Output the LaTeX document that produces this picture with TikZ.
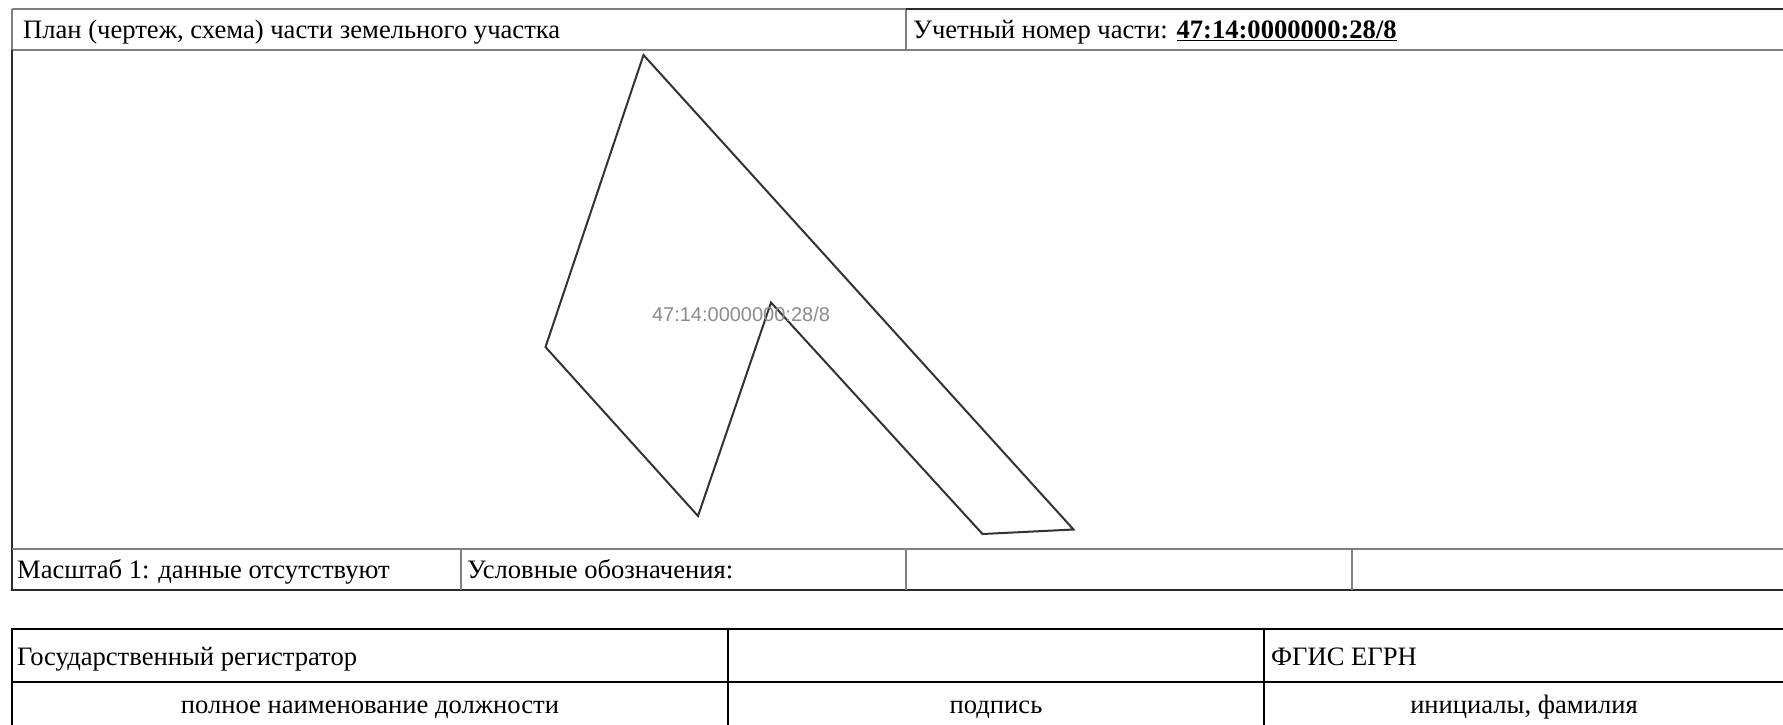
\documentclass[tikz,border=0pt]{standalone}
\usepackage{fontspec}
\setmainfont{Liberation Serif}
\newfontfamily\labelfont{Liberation Sans}
\definecolor{gridgray}{HTML}{808080}
\definecolor{darkline}{HTML}{2B2B2B}
\definecolor{plotline}{HTML}{333333}
\definecolor{labelgray}{HTML}{8C8C8C}
\tikzset{
  grayrule/.style={draw=gridgray, line width=2pt},
  darkrule/.style={draw=darkline, line width=2.5pt},
  blackrule/.style={draw=black, line width=2.2pt},
  celltext/.style={inner sep=0pt, anchor=base west, font=\fontsize{26.6}{32}\selectfont},
  centertext/.style={inner sep=0pt, anchor=base, font=\fontsize{26.6}{32}\selectfont},
  parcel/.style={draw=plotline, line width=2pt, line join=miter},
  parcellabel/.style={inner sep=0pt, text=labelgray, font=\labelfont\fontsize{20}{24}\selectfont}
}
\begin{document}
\begin{tikzpicture}[x=1pt,y=-1pt]
\useasboundingbox[fill=white] (0,0) rectangle (1783,724);
% ---------- upper table ----------
% header row
\draw[grayrule] (12,9) -- (906,9);
\draw[grayrule] (12,9) -- (12,50);
\draw[grayrule] (12,50) -- (1783,50);
\draw[grayrule] (906,9) -- (906,50);
\draw[darkrule] (906,9) -- (1785,9);
% plan area and bottom row
\draw[darkrule] (12,50) -- (12,590);
\draw[grayrule] (12,549) -- (1785,549);
\draw[darkrule] (11,590) -- (1785,590);
\draw[grayrule] (460.5,549) -- (460.5,590);
\draw[grayrule] (906,549) -- (906,590);
\draw[grayrule] (1352,549) -- (1352,590);
% texts
\node[celltext] (plan) at (23,38.5) {План (чертеж, схема) части земельного участка};
\node[celltext] (num) at (913,38.5) {Учетный номер части: \textbf{\underline{47:14:0000000:28/8}}};
\node[celltext] (scale) at (17,578.5) {Масштаб 1: данные отсутствуют};
\node[celltext] (legend) at (467,578.5) {Условные обозначения:};
% parcel
\coordinate (p1) at (643.5,55);
\coordinate (p2) at (545.5,347);
\coordinate (p3) at (698,516);
\coordinate (p4) at (771,302.5);
\coordinate (p5) at (982.5,534);
\coordinate (p6) at (1073.5,529.5);
\draw[parcel] (p1) -- (p2) -- (p3) -- (p4) -- (p5) -- (p6) -- cycle;
\node[parcellabel] (plabel) at (741,314) {47:14:0000000:28/8};
% ---------- lower table ----------
\draw[blackrule] (12,629) -- (1785,629);
\draw[blackrule] (12,682) -- (1785,682);
\draw[blackrule] (12,628) -- (12,726);
\draw[blackrule] (728,628) -- (728,726);
\draw[blackrule] (1264,628) -- (1264,726);
\node[celltext] (reg) at (17,665) {Государственный регистратор};
\node[celltext] (fgis) at (1271,665) {ФГИС ЕГРН};
\node[centertext] (pos) at (370,713) {полное наименование должности};
\node[centertext] (sign) at (996,713) {подпись};
\node[centertext] (name) at (1524,713) {инициалы, фамилия};
\end{tikzpicture}
\end{document}
